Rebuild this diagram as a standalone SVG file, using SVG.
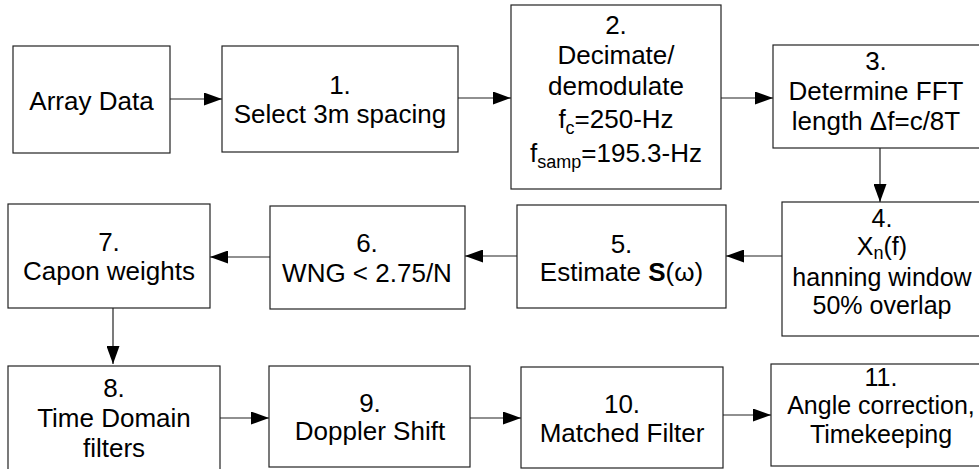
<svg xmlns="http://www.w3.org/2000/svg" width="979" height="469" viewBox="0 0 979 469">
<defs>
<style>
.box{fill:#fff;stroke:#222;stroke-width:1.2}
.t{font-family:"Liberation Sans",Arial,sans-serif;font-size:26px;fill:#000;text-anchor:middle}
.s25{font-size:25px}
.sub{font-size:18px}
.c{stroke:#222;stroke-width:1.2;fill:none}
</style>
<marker id="ah" viewBox="0 0 18 13" refX="18" refY="6.5" markerWidth="18" markerHeight="13" markerUnits="userSpaceOnUse" orient="auto">
<path d="M0,0 L18,6.5 L0,13 Z" fill="#000"/>
</marker>
</defs>
<rect width="979" height="469" fill="#fff"/>
<g id="connectors">
<line class="c" x1="170" y1="99" x2="222" y2="99" marker-end="url(#ah)"/>
<line class="c" x1="458" y1="98" x2="511" y2="98" marker-end="url(#ah)"/>
<line class="c" x1="721" y1="98" x2="773" y2="98" marker-end="url(#ah)"/>
<line class="c" x1="880" y1="148" x2="880" y2="202" marker-end="url(#ah)"/>
<line class="c" x1="782" y1="256" x2="726" y2="256" marker-end="url(#ah)"/>
<line class="c" x1="517" y1="256" x2="465" y2="256" marker-end="url(#ah)"/>
<line class="c" x1="270" y1="257" x2="210" y2="257" marker-end="url(#ah)"/>
<line class="c" x1="113" y1="308" x2="113" y2="364" marker-end="url(#ah)"/>
<line class="c" x1="220" y1="418" x2="269" y2="418" marker-end="url(#ah)"/>
<line class="c" x1="470" y1="418" x2="521" y2="418" marker-end="url(#ah)"/>
<line class="c" x1="723" y1="415" x2="771" y2="415" marker-end="url(#ah)"/>
</g>
<g id="n0"><rect class="box" x="13" y="46" width="157" height="107"/><text class="t" x="91.5" y="110">Array Data</text></g>
<g id="n1"><rect class="box" x="222" y="46" width="236" height="106"/><text class="t" x="340" y="94">1.</text><text class="t" x="340" y="123">Select 3m spacing</text></g>
<g id="n2"><rect class="box" x="511" y="5" width="210" height="184"/>
<text class="t" x="616" y="34">2.</text>
<text class="t" x="616" y="64">Decimate/</text>
<text class="t" x="616" y="95">demodulate</text>
<text class="t" x="616" y="128">f<tspan class="sub" dy="6">c</tspan><tspan dy="-6">=250-Hz</tspan></text>
<text class="t" x="616" y="162">f<tspan class="sub" dy="6">samp</tspan><tspan dy="-6">=195.3-Hz</tspan></text>
</g>
<g id="n3"><rect class="box" x="773" y="45" width="212" height="103"/>
<text class="t" x="876" y="70">3.</text>
<text class="t" x="876" y="100">Determine FFT</text>
<text class="t" x="876" y="130">length Δf=c/8T</text>
</g>
<g id="n4"><rect class="box" x="782" y="202" width="203" height="134"/>
<text class="t s25" x="882" y="227">4.</text>
<text class="t s25" x="882" y="255">X<tspan class="sub" dy="4">n</tspan><tspan dy="-4">(f)</tspan></text>
<text class="t s25" x="882" y="286">hanning window</text>
<text class="t s25" x="882" y="314">50% overlap</text>
</g>
<g id="n5"><rect class="box" x="517" y="205" width="209" height="103"/>
<text class="t" x="621.5" y="253">5.</text>
<text class="t" x="621.5" y="281">Estimate <tspan font-weight="bold">S</tspan>(ω)</text>
</g>
<g id="n6"><rect class="box" x="270" y="206" width="195" height="103"/>
<text class="t" x="367" y="252">6.</text>
<text class="t" x="367" y="282">WNG &lt; 2.75/N</text>
</g>
<g id="n7"><rect class="box" x="8" y="204" width="202" height="104"/>
<text class="t" x="109" y="251">7.</text>
<text class="t" x="109" y="280">Capon weights</text>
</g>
<g id="n8"><rect class="box" x="8" y="366" width="212" height="110"/>
<text class="t" x="114" y="397">8.</text>
<text class="t" x="114" y="427">Time Domain</text>
<text class="t" x="114" y="457">filters</text>
</g>
<g id="n9"><rect class="box" x="269" y="366" width="201" height="101"/>
<text class="t" x="370" y="412">9.</text>
<text class="t" x="370" y="440">Doppler Shift</text>
</g>
<g id="n10"><rect class="box" x="521" y="367" width="202" height="101"/>
<text class="t" x="622" y="413">10.</text>
<text class="t" x="622" y="442">Matched Filter</text>
</g>
<g id="n11"><rect class="box" x="771" y="364" width="214" height="102"/>
<text class="t s25" x="881" y="386">11.</text>
<text class="t s25" x="881" y="414">Angle correction,</text>
<text class="t s25" x="881" y="442.5">Timekeeping</text>
</g>
</svg>
